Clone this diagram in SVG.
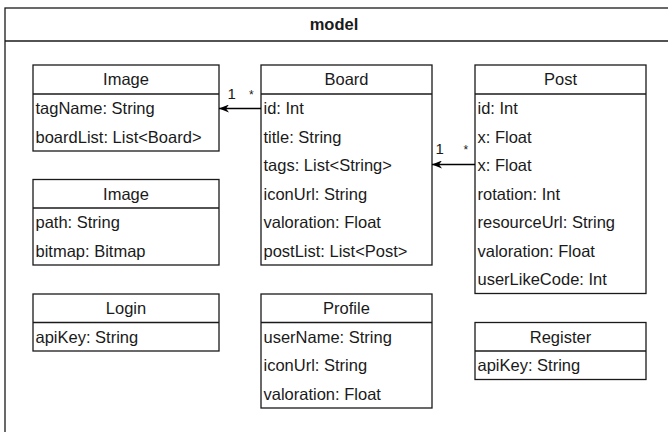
<svg xmlns="http://www.w3.org/2000/svg" width="668" height="432" viewBox="0 0 668 432">
  <style>
    .box { fill: #ffffff; stroke: #1a1a1a; stroke-width: 1.3; }
    .sep { stroke: #1a1a1a; stroke-width: 1.3; }
    text { font-family: "Liberation Sans", Arial, sans-serif; font-size: 16.5px; fill: #1a1a1a; }
    .title { text-anchor: middle; }
    .pkg { font-weight: bold; }
    .edge { fill: none; stroke: #000000; stroke-width: 1.3; }
    .mult { font-size: 15px; }
    .star { font-size: 12px; }
  </style>
  <defs>
    <marker id="classic" viewBox="0 0 10 8" refX="10" refY="4" markerWidth="10" markerHeight="8" markerUnits="userSpaceOnUse" orient="auto">
      <path d="M10,4 L0,0 L3,4 L0,8 Z" fill="#000000"/>
    </marker>
  </defs>

  <!-- package frame -->
  <g id="model">
    <rect class="box" x="5" y="8" width="700" height="460"/>
    <line class="sep" x1="5" y1="41" x2="705" y2="41"/>
    <text class="title pkg" x="334" y="30">model</text>
  </g>

  <!-- classes -->
  <g id="image-board">
    <rect class="box" x="33" y="65" width="186" height="86"/>
    <line class="sep" x1="33" y1="94" x2="219" y2="94"/>
    <text class="title" x="126" y="85">Image</text>
    <text x="35.5" y="114">tagName: String</text>
    <text x="35.5" y="142.5">boardList: List&lt;Board&gt;</text>
  </g>

  <g id="board">
    <rect class="box" x="261" y="65" width="171" height="200"/>
    <line class="sep" x1="261" y1="94" x2="432" y2="94"/>
    <text class="title" x="346.5" y="85">Board</text>
    <text x="263.5" y="114">id: Int</text>
    <text x="263.5" y="142.5">title: String</text>
    <text x="263.5" y="171">tags: List&lt;String&gt;</text>
    <text x="263.5" y="199.5">iconUrl: String</text>
    <text x="263.5" y="228">valoration: Float</text>
    <text x="263.5" y="256.5">postList: List&lt;Post&gt;</text>
  </g>

  <g id="post">
    <rect class="box" x="475" y="65" width="171" height="228.5"/>
    <line class="sep" x1="475" y1="94" x2="646" y2="94"/>
    <text class="title" x="560.5" y="85">Post</text>
    <text x="477.5" y="114">id: Int</text>
    <text x="477.5" y="142.5">x: Float</text>
    <text x="477.5" y="171">x: Float</text>
    <text x="477.5" y="199.5">rotation: Int</text>
    <text x="477.5" y="228">resourceUrl: String</text>
    <text x="477.5" y="256.5">valoration: Float</text>
    <text x="477.5" y="285">userLikeCode: Int</text>
  </g>

  <g id="image-bitmap">
    <rect class="box" x="33" y="179.5" width="186" height="85.5"/>
    <line class="sep" x1="33" y1="208" x2="219" y2="208"/>
    <text class="title" x="126" y="199.5">Image</text>
    <text x="35.5" y="228">path: String</text>
    <text x="35.5" y="256.5">bitmap: Bitmap</text>
  </g>

  <g id="login">
    <rect class="box" x="33" y="294" width="186" height="57"/>
    <line class="sep" x1="33" y1="322.5" x2="219" y2="322.5"/>
    <text class="title" x="126" y="314">Login</text>
    <text x="35.5" y="342.5">apiKey: String</text>
  </g>

  <g id="profile">
    <rect class="box" x="261" y="294" width="171" height="114"/>
    <line class="sep" x1="261" y1="322.5" x2="432" y2="322.5"/>
    <text class="title" x="346.5" y="314">Profile</text>
    <text x="263.5" y="342.5">userName: String</text>
    <text x="263.5" y="371">iconUrl: String</text>
    <text x="263.5" y="399.5">valoration: Float</text>
  </g>

  <g id="register">
    <rect class="box" x="475" y="322.5" width="171" height="57"/>
    <line class="sep" x1="475" y1="351" x2="646" y2="351"/>
    <text class="title" x="560.5" y="342.5">Register</text>
    <text x="477.5" y="371">apiKey: String</text>
  </g>

  <!-- associations -->
  <g id="connectors">
    <path class="edge" d="M261,108.5 L219,108.5" marker-end="url(#classic)"/>
    <text class="mult" x="227.5" y="98.5">1</text>
    <text class="star" x="249" y="99">*</text>

    <path class="edge" d="M475,164.5 L432,164.5" marker-end="url(#classic)"/>
    <text class="mult" x="435.5" y="153.5">1</text>
    <text class="star" x="463.5" y="154">*</text>
  </g>
</svg>
